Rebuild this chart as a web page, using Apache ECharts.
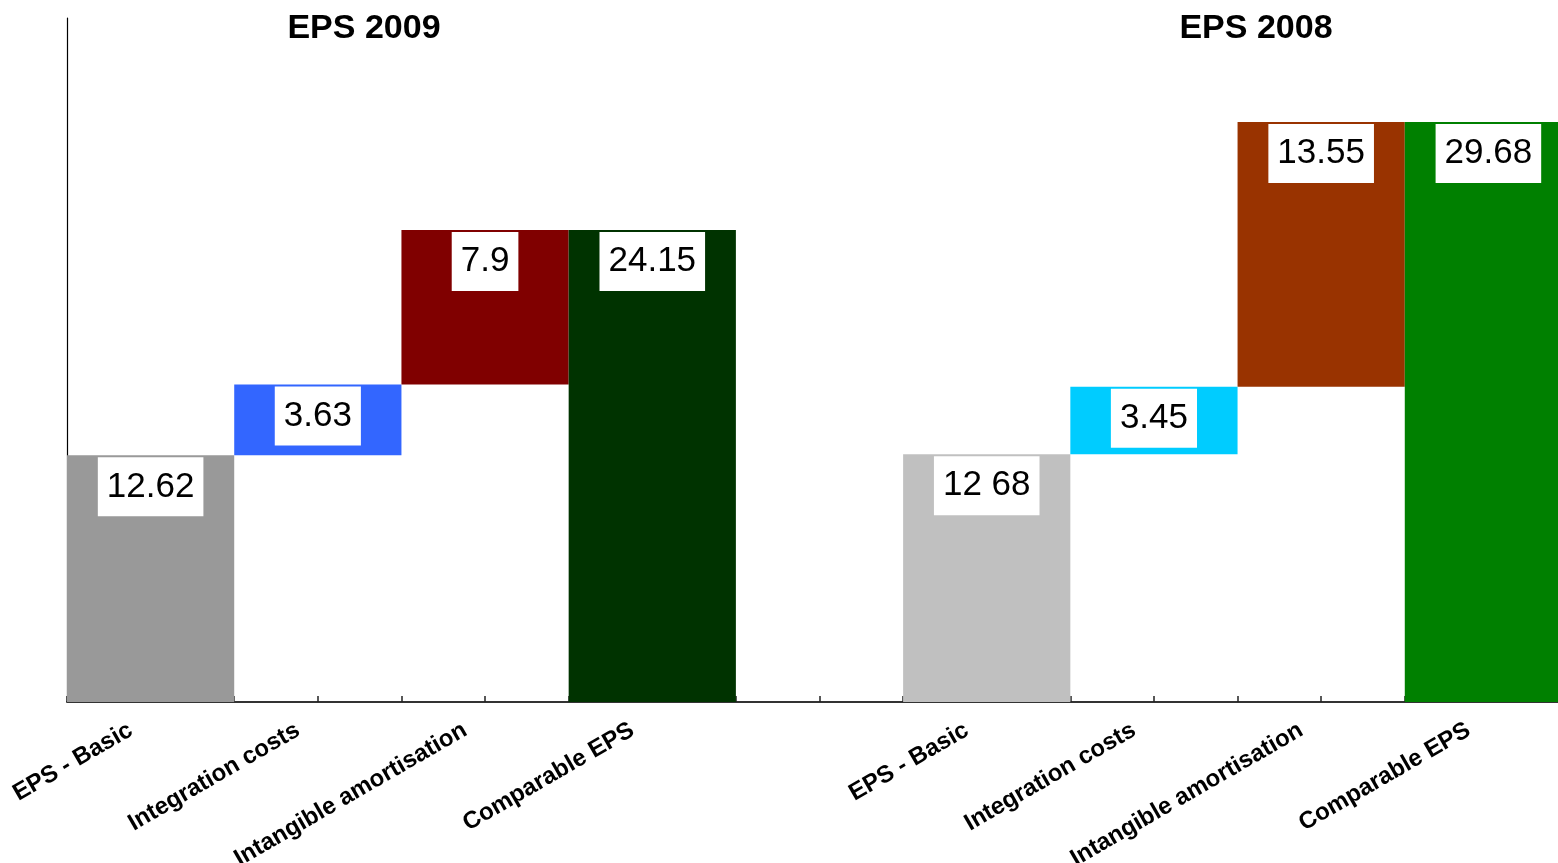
<!DOCTYPE html>
<html>
<head>
<meta charset="utf-8">
<title>EPS 2009 / EPS 2008</title>
<script src="https://cdn.jsdelivr.net/npm/echarts@6/dist/echarts.min.js"></script>
<style>
  html, body { margin: 0; padding: 0; background: #ffffff; }
  #chart { width: 1558px; height: 863px; }
</style>
</head>
<body>
<div id="chart"></div>
<script>
// Bridge from basic EPS to comparable EPS, two years side by side
const stepNames = ['EPS - Basic', 'Integration costs', 'Intangible amortisation', 'Comparable EPS'];
const eps2009 = [12.62, 3.63, 7.9, 24.15];
const eps2008 = [12.68, 3.45, 13.55, 29.68];
const labels2009 = ['12.62', '3.63', '7.9', '24.15'];
const labels2008 = ['12 68', '3.45', '13.55', '29.68'];
const colors2009 = ['#999999', '#3366FF', '#800000', '#003300'];
const colors2008 = ['#C0C0C0', '#00CCFF', '#993300', '#008000'];
const groupTitles = ['EPS 2009', 'EPS 2008'];

// Offsets: each adjustment floats on the running total, totals start at zero
function bases(values) {
  const out = [];
  let run = 0;
  values.forEach((v, i) => {
    if (i === values.length - 1) { out.push(0); }
    else { out.push(run); run += v; }
  });
  return out;
}

// The longest step name sits a touch higher under its tick
function axisItem(name) {
  if (name === 'Intangible amortisation') {
    return { value: name, textStyle: { padding: [0, 23, 12, 0] } };
  }
  return name;
}

const categories = stepNames.concat([''], stepNames);
const axisData = categories.map(axisItem);
const baseData = bases(eps2009).concat(['-'], bases(eps2008));
const valueData = [];
eps2009.forEach((v, i) => valueData.push({ value: v, itemStyle: { color: colors2009[i] }, label: { formatter: labels2009[i] } }));
valueData.push('-');
eps2008.forEach((v, i) => valueData.push({ value: v, itemStyle: { color: colors2008[i] }, label: { formatter: labels2008[i] } }));

// Half-step tick slots along the bottom axis
const tickSlots = categories.concat(categories).map(() => '');

const chart = echarts.init(document.getElementById('chart'), null, { renderer: 'canvas' });
chart.setOption({
  animation: false,
  backgroundColor: '#ffffff',
  // the plot area runs a little past the right edge of the page
  grid: { left: 67, top: 18, width: 1505, bottom: 161, containLabel: false, outerBoundsMode: 'none' },
  xAxis: [
    {
      type: 'category',
      data: axisData,
      boundaryGap: true,
      axisLine: { show: true, lineStyle: { color: '#333333', width: 2 } },
      axisTick: { show: false },
      axisLabel: {
        interval: 0,
        rotate: 30,
        margin: 15,
        padding: [0, 23, 0, 0],
        color: '#000000',
        fontSize: 24,
        fontWeight: 'bold',
        fontFamily: 'Liberation Sans, Arial, sans-serif'
      },
      splitLine: { show: false }
    },
    {
      type: 'category',
      data: tickSlots,
      position: 'bottom',
      boundaryGap: true,
      axisLine: { show: false },
      axisTick: { show: true, inside: true, length: 6, interval: 0, lineStyle: { color: '#222222', width: 1.5 } },
      axisLabel: { show: false },
      splitLine: { show: false }
    }
  ],
  yAxis: {
    type: 'value',
    min: 0,
    max: 35,
    axisLine: { show: true, lineStyle: { color: '#000000', width: 1.2 } },
    axisTick: { show: false },
    axisLabel: { show: false },
    splitLine: { show: false }
  },
  series: [
    {
      name: 'base',
      type: 'bar',
      stack: 'eps',
      barWidth: '100%',
      itemStyle: { color: 'rgba(0,0,0,0)' },
      emphasis: { disabled: true },
      data: baseData
    },
    {
      name: 'EPS',
      type: 'bar',
      stack: 'eps',
      barWidth: '100%',
      data: valueData,
      label: {
        show: true,
        position: 'insideTop',
        distance: 2,
        backgroundColor: '#ffffff',
        padding: [12, 9, 12, 9],
        color: '#000000',
        fontSize: 35,
        lineHeight: 35,
        fontFamily: 'Liberation Sans, Arial, sans-serif'
      }
    }
  ],
  graphic: [
    {
      type: 'text', x: 364, y: 29,
      style: { text: groupTitles[0], align: 'center', verticalAlign: 'middle', fill: '#000000',
               font: 'bold 34px "Liberation Sans", Arial, sans-serif' }
    },
    {
      type: 'text', x: 1256, y: 29,
      style: { text: groupTitles[1], align: 'center', verticalAlign: 'middle', fill: '#000000',
               font: 'bold 34px "Liberation Sans", Arial, sans-serif' }
    }
  ]
});
</script>
</body>
</html>
